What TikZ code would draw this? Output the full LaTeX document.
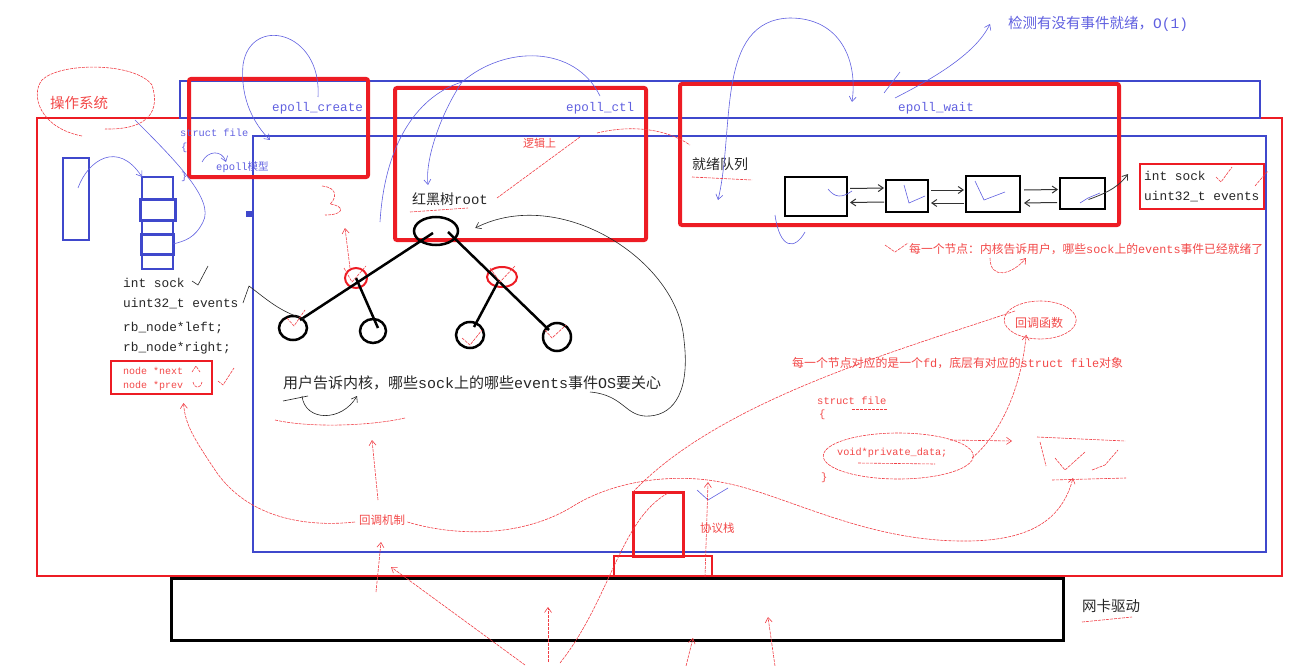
\documentclass[tikz,border=0pt]{standalone}
\usepackage{fontspec}
\setmainfont{Liberation Mono}
\newfontfamily\cjk{Noto Sans CJK SC}
\usetikzlibrary{arrows.meta, positioning, calc, shapes.geometric}
\definecolor{penblue}{RGB}{63,72,204}
\definecolor{penred}{RGB}{237,28,36}
\definecolor{inkblue}{RGB}{96,96,224}
\definecolor{inkred}{RGB}{242,72,72}
\newcommand{\setfs}[1]{\fontsize{#1}{#1}\selectfont}

\begin{document}
\begin{tikzpicture}[x=1pt, y=-1pt,
    >={Straight Barb[length=5pt, width=7pt]},
    frame/.style={rectangle, inner sep=0pt, outer sep=0pt},
    bluebox/.style={frame, draw=penblue, line width=2.5pt},
    redbox/.style={frame, draw=penred, line width=2pt},
    hotbox/.style={frame, draw=penred, line width=4pt, rounded corners=2pt},
    blackbox/.style={frame, draw=black, line width=2.5pt},
    knot/.style={ellipse, inner sep=0pt, draw=black, line width=2.5pt},
    redknot/.style={knot, draw=penred, line width=2pt},
    txt/.style={anchor=west, inner sep=0pt, text=black!85},
    code/.style={txt, font=\setfs{12.8}},
    bluetxt/.style={txt, text=inkblue},
    redtxt/.style={txt, text=inkred},
    tree/.style={draw=black, line width=2.5pt},
    link/.style={draw=black!80, line width=1pt},
    bluepen/.style={draw=inkblue, line width=0.6pt},
    redpen/.style={draw=penred!85, line width=0.6pt, dash pattern=on 3pt off 1pt},
    blackpen/.style={draw=black!85, line width=0.6pt}
]
\useasboundingbox (0,0) rectangle (1304,666);

% Frames
\node (os) [redbox, minimum width=1245, minimum height=458] at (659.5,347) {};
\node (topbar) [bluebox, minimum width=1080, minimum height=37] at (720,99.5) {};
\node (kernel) [bluebox, minimum width=1013, minimum height=416] at (759.5,344) {};
\node (create) [hotbox, minimum width=179, minimum height=98] at (278.5,128) {};
\node (ctl) [hotbox, minimum width=251, minimum height=152] at (520.5,164) {};
\node (wait) [hotbox, minimum width=439, minimum height=141] at (899.5,154.5) {};
\node (nextbox) [redbox, line width=2.5pt, minimum width=101, minimum height=33] at (161.5,377.5) {};
\node (evbox) [redbox, minimum width=124, minimum height=45] at (1202,186.5) {};
\node (port) [redbox, line width=3pt, minimum width=50, minimum height=64] at (658,524) {};
\node (portbase) [redbox, minimum width=98, minimum height=21] at (663,566.5) {};
\node (nic) [blackbox, line width=3pt, minimum width=892, minimum height=62] at (617,609) {};

% fd table and file array
\node (fdtab) [bluebox, minimum width=26, minimum height=82] at (76,199) {};
\node (c1) [bluebox, line width=2pt, minimum width=31, minimum height=22] at (157.5,188) {};
\node (c2) [bluebox, line width=3pt, minimum width=35, minimum height=21] at (157.5,209.5) {};
\node (c3) [bluebox, line width=2pt, minimum width=31, minimum height=14] at (157.5,227) {};
\node (c4) [bluebox, line width=3pt, minimum width=32, minimum height=20] at (157,244) {};
\node (c5) [bluebox, line width=2pt, minimum width=31, minimum height=15] at (157.5,261.5) {};
\node (dot) [frame, fill=penblue, minimum size=6] at (249,214) {};

% Ready queue
\node (q1) [blackbox, minimum width=62, minimum height=39] at (816,196.5) {};
\node (q2) [blackbox, minimum width=42, minimum height=32] at (907,196) {};
\node (q3) [blackbox, minimum width=54, minimum height=36] at (993,194) {};
\node (q4) [blackbox, minimum width=45, minimum height=31] at (1082.5,193.5) {};

% Red-black tree
\node (root) [knot, minimum width=44, minimum height=28] at (436,231) {};
\node (lc) [redknot, minimum width=22, minimum height=20] at (356,278) {};
\node (rc) [redknot, minimum width=30, minimum height=20] at (502,277) {};
\node (leaf1) [knot, minimum width=28, minimum height=24] at (293,328) {};
\node (leaf2) [knot, minimum width=26, minimum height=24] at (373,331) {};
\node (leaf3) [knot, minimum width=28, minimum height=26] at (470,335) {};
\node (leaf4) [knot, minimum width=28, minimum height=28] at (557,337) {};

% Texts
\node (ostitle) [redtxt, font={\cjk\setfs{14.5}}] at (50,103) {操作系统};
\node (tcreate) [bluetxt, font=\setfs{12.6}] at (272,108) {epoll\_create};
\node (tctl) [bluetxt, font=\setfs{12.6}] at (566,108) {epoll\_ctl};
\node (twait) [bluetxt, font=\setfs{12.6}] at (898,108) {epoll\_wait};
\node (sfile) [bluetxt, font=\setfs{10.3}] at (180,133) {struct file};
\node (sopen) [bluetxt, font=\setfs{10.3}] at (181,148) {\{};
\node (sclose) [bluetxt, font=\setfs{10.3}] at (181,177) {\}};
\node (model) [bluetxt, font=\setfs{10.5}] at (216,167) {epoll{\cjk 模型}};
\node (rbroot) [txt, font=\setfs{14}] at (412,199) {{\cjk 红黑树}root};
\node (logic) [redtxt, font={\cjk\setfs{11}}] at (523,143) {逻辑上};
\node (readyq) [txt, font={\cjk\setfs{14}}] at (692,164) {就绪队列};
\node (detect) [bluetxt, font=\setfs{14.5}] at (1008,24) {{\cjk 检测有没有事件就绪，}O(1)};
\node (esock) [code] at (1144,176) {int sock};
\node (eevt) [code] at (1144,197) {uint32\_t events};
\node (readynote) [redtxt, font=\setfs{11.8}] at (909,249) {{\cjk 每一个节点：内核告诉用户，哪些}sock{\cjk 上的}events{\cjk 事件已经就绪了}};
\node (cbfunc) [redtxt, font={\cjk\setfs{12}}] at (1015,323) {回调函数};
\node (fdnote) [redtxt, font=\setfs{11.9}] at (792,363) {{\cjk 每一个节点对应的是一个}fd{\cjk ，底层有对应的}struct file{\cjk 对象}};
\node (rfile) [redtxt, font=\setfs{10.5}] at (817,401) {struct file};
\node (ropen) [redtxt, font=\setfs{10.5}] at (819,415) {\{};
\node (priv) [redtxt, font=\setfs{10.2}] at (837,453) {void*private\_data;};
\node (rclose) [redtxt, font=\setfs{10.5}] at (821,478) {\}};
\node (lsock) [code] at (123,283) {int sock};
\node (levt) [code] at (123,304) {uint32\_t events};
\node (lleft) [code] at (123,328) {rb\_node*left;};
\node (lright) [code] at (123,348) {rb\_node*right;};
\node (lnext) [redtxt, font=\setfs{10}] at (123,371) {node *next};
\node (lprev) [redtxt, font=\setfs{10}] at (123,386) {node *prev};
\node (usernote) [txt, font=\setfs{15}] at (283,383) {{\cjk 用户告诉内核，哪些}sock{\cjk 上的哪些}events{\cjk 事件}OS{\cjk 要关心}};
\node (cbmech) [redtxt, font={\cjk\setfs{11.5}}] at (359,520) {回调机制};
\node (stack) [redtxt, font={\cjk\setfs{11.5}}] at (700,528) {协议栈};
\node (nicdrv) [txt, font={\cjk\setfs{14.5}}] at (1082,606) {网卡驱动};

% Tree edges
\draw [tree] ($(root.center)+(-3,2)$) -- ($(leaf1.center)+(7,-8)$);
\draw [tree] ($(root.center)+(12,1)$) -- ($(leaf4.center)+(-8,-7)$);
\draw [tree] (lc.center) -- ($(leaf2.center)+(5,-3)$);
\draw [tree] ($(rc.center)+(-4,5)$) -- ($(leaf3.center)+(4,-8)$);

% Queue links
\draw [link, ->] ($(q1.east)+(3,-8)$) -- ($(q2.west)+(-2,-8)$);
\draw [link, <-] ($(q1.east)+(3,6)$) -- ($(q2.west)+(-2,6)$);
\draw [link, ->] ($(q2.east)+(3,-6)$) -- ($(q3.west)+(-2,-4)$);
\draw [link, <-] ($(q2.east)+(3,7)$) -- ($(q3.west)+(-2,9)$);
\draw [link, ->] ($(q3.east)+(4,-4)$) -- ($(q4.west)+(-2,-4)$);
\draw [link, <-] ($(q3.east)+(4,9)$) -- ($(q4.west)+(-3,9)$);
\draw [link, line width=0.8pt, ->] ($(q4.center)+(6,6)$) .. controls (1110,192) and (1120,185) .. ($(evbox.north west)+(-12,10)$);

% Blue pen
\draw [bluepen, ->] (318,97) .. controls (322,30) and (250,15) .. (243,65) .. controls (240,100) and (255,125) .. (270,140);
\draw [bluepen, ->] ($(fdtab.center)+(2,-11)$) .. controls (88,160) and (118,140) .. (c1.north west);
\draw [bluepen] (135,120) .. controls (175,160) and (215,200) .. (203,222) .. controls (195,238) and (185,241) .. (c4.east);
\draw [bluepen, ->] (202,162) .. controls (208,150) and (222,150) .. (226,162);
\draw [bluepen] (380,222) .. controls (385,140) and (420,95) .. (462,82) .. controls (505,45) and (575,45) .. (600,96);
\draw [bluepen, ->] (462,82) .. controls (440,115) and (425,160) .. (428,185);
\draw [bluepen, <->] (718,200) .. controls (735,130) and (715,20) .. (790,18) .. controls (840,18) and (858,60) .. (852,102);
\draw [bluepen, ->] (895,98) .. controls (930,80) and (975,55) .. (990,24);
\draw [bluepen] (884,93) -- (900,72);
\draw [bluepen] (775,215) .. controls (780,250) and (795,250) .. (805,232);
\draw [bluepen] (828,189) .. controls (835,198) and (842,198) .. (852,191);
\draw [bluepen] (904,185) -- (909,203) -- (925,196);
\draw [bluepen] (975,181) -- (984,200) -- (1005,192);
\draw [bluepen] (1080,203) -- (1088,198) -- (1100,193);
\draw [bluepen] (697,490) -- (708,500) -- (728,488);

% Black pen
\draw [blackpen, ->] (590,392) .. controls (625,395) and (625,418) .. (650,416) .. controls (675,414) and (690,390) .. (684,340) .. controls (678,260) and (560,185) .. ($(root.east)+(16,-3)$);
\draw [blackpen] (243,303) -- (249,286) .. controls (265,298) and (280,312) .. (leaf1.north east);
\draw [blackpen, ->] (302,396) .. controls (305,422) and (342,422) .. (357,396);
\draw [blackpen] (283,401) -- (308,396);
\draw [blackpen] (192,281) -- (198,285) -- (208,266);

% Red pen
\draw [redpen] (82,136) .. controls (40,128) and (30,95) .. (42,80) .. controls (60,62) and (135,62) .. (152,85) .. controls (160,110) and (150,130) .. (105,129);
\draw [redpen] ($(cbfunc.center)+(1,-3)$) ellipse [x radius=36, y radius=19];
\draw [redpen] ($(priv.center)+(6,3)$) ellipse [x radius=75, y radius=23];
\draw [redpen, ->] (972,458) .. controls (1005,430) and (1022,380) .. ($(cbfunc.south)+(-13,6)$);
\draw [redpen] ($(cbfunc.west)+(0,-12)$) .. controls (900,350) and (720,400) .. (port.north west);
\draw [redpen, ->] ($(cbmech.east)+(2,2)$) .. controls (450,535) and (520,540) .. (575,505) .. controls (620,478) and (680,474) .. (720,482) .. controls (780,492) and (860,540) .. (960,541) .. controls (1030,542) and (1062,520) .. (1073,478);
\draw [redpen, ->] ($(cbmech.west)+(-4,2)$) .. controls (300,528) and (245,515) .. (215,470) .. controls (195,440) and (185,425) .. ($(nextbox.south)+(22,9)$);
\draw [redpen] (560,663) .. controls (610,600) and (620,520) .. (668,493);
\draw [redpen, ->] (705,577) -- (708,482);
\draw [redpen, ->] (525,665) -- (391,567);
\draw [redpen, ->] (376,592) -- (381,542);
\draw [redpen, ->] (548,662) -- (548,607);
\draw [redpen, ->] (686,666) -- (693,638);
\draw [redpen, ->] (775,666) -- (768,617);
\draw [redpen, ->] (378,500) -- (372,440);
\draw [redpen] (275,420) .. controls (310,428) and (370,426) .. (405,418);
\draw [redpen, ->] (350,268) -- (345,228);
\draw [redpen] (322,186) .. controls (340,188) and (335,200) .. (330,204) .. controls (345,206) and (345,215) .. (325,215);
\draw [redpen] (597,133) .. controls (630,125) and (665,128) .. (690,145);
\draw [redpen] (497,198) -- (580,137);
\draw [redpen] (410,212) -- (468,208);
\draw [redpen] (692,177) -- (752,180);
\draw [redpen] (885,245) -- (895,252) -- (908,243);
\draw [redpen, ->] (990,258) .. controls (990,280) and (1012,275) .. (1026,258);
\draw [redpen] (1216,177) -- (1221,182) -- (1232,167);
\draw [redpen] (1255,186) -- (1260,180) -- (1268,171);
\draw [redpen] (218,381) -- (223,385) -- (234,368);
\draw [redpen] (192,372) -- (196,366) -- (200,372);
\draw [redpen] (193,382) .. controls (195,389) and (200,389) .. (202,382);
\draw [redpen, ->] (950,440) -- (1012,441);
\draw [redpen] (1037,437) -- (1125,441);
\draw [redpen] (1052,480) -- (1126,478);
\draw [redpen] (1040,442) -- (1046,466);
\draw [redpen] (1055,458) -- (1065,470) -- (1085,452);
\draw [redpen] (1092,470) -- (1105,465) -- (1118,450);
\draw [redpen] (852,409) -- (887,409);
\draw [redpen] (858,463) -- (935,464);
\draw [redpen] (1082,622) -- (1132,617);
\draw [redpen] (287,318) -- (294,326) -- (305,310);
\draw [redpen] (344,268) -- (352,282) -- (366,266);
\draw [redpen] (490,268) -- (500,282) -- (515,266);
\draw [redpen] (462,338) -- (470,345) -- (482,330);
\draw [redpen] (545,330) -- (552,338) -- (566,325);
\end{tikzpicture}
\end{document}
